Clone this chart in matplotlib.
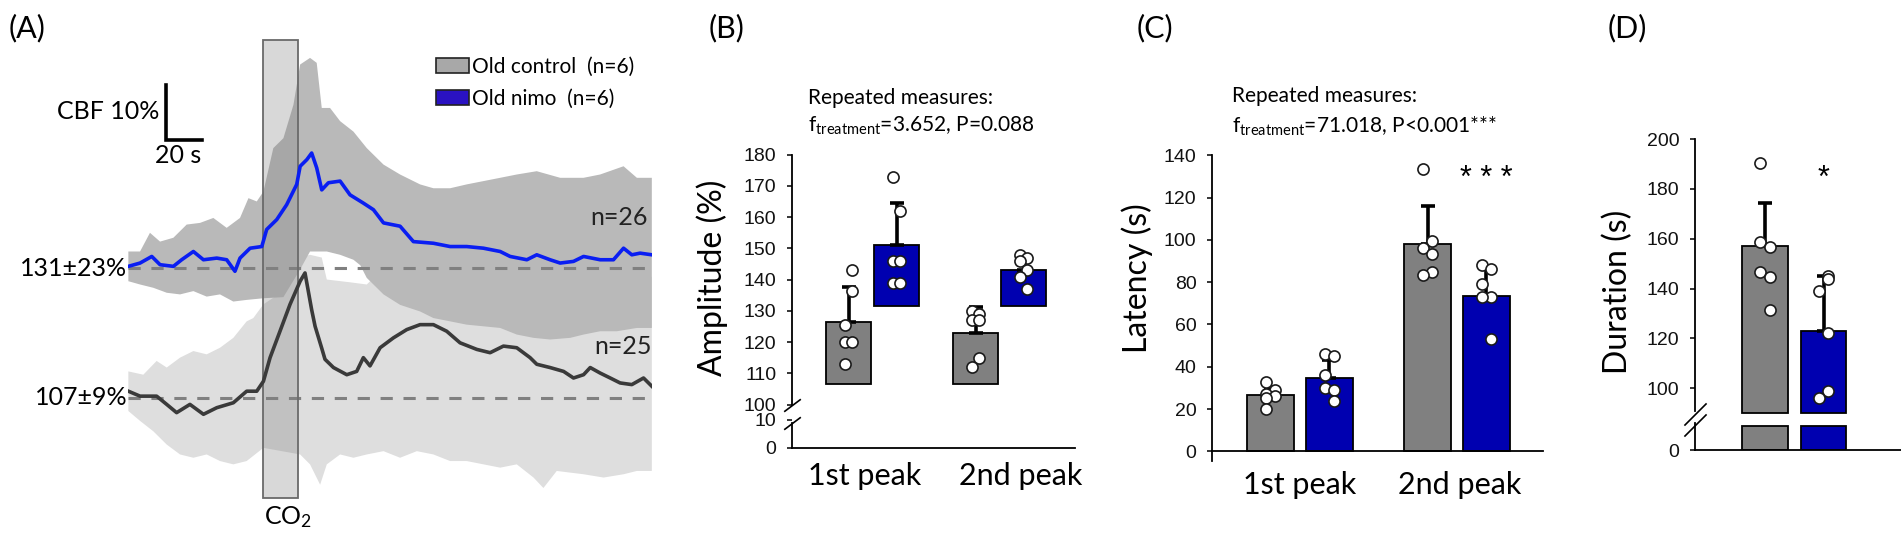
import numpy as np
import matplotlib
matplotlib.use("Agg")
import matplotlib.pyplot as plt
from matplotlib.patches import Patch, Rectangle
from matplotlib.ticker import NullLocator

plt.rcParams['font.family'] = ['Lato', 'DejaVu Sans']
plt.rcParams['mathtext.default'] = 'regular'

# ======================= DATA =======================
# Panel A: CBF change (%) from each group's own baseline, versus time (s)
nimo_t = [0.2, 6.7, 13.2, 17.8, 25.2, 29.8, 36.3, 41.9, 49.3, 54.8, 59.4, 62.2, 67.8, 74.3, 77.0,
          82.6, 88.1, 93.7, 95.6, 99.3, 102.0, 104.8, 107.6, 111.3, 117.8, 123.3, 130.7, 136.3,
          141.9, 151.1, 158.5, 169.6, 178.9, 188.1, 197.4, 206.7, 212.2, 221.5, 227.0, 234.4,
          240.0, 247.4, 253.0, 262.2, 269.6, 275.2, 279.8, 284.4, 290.9]
nimo_v = [0.3, 0.9, 2.1, 0.6, 0.3, 1.5, 3.0, 1.5, 1.8, 1.5, -0.6, 1.8, 3.6, 3.9, 7.0,
          8.8, 11.5, 15.2, 18.5, 19.7, 20.9, 18.2, 14.2, 15.5, 15.8, 13.3, 11.8, 10.6,
          8.2, 7.6, 4.8, 4.5, 3.9, 3.9, 3.6, 3.0, 2.1, 1.5, 2.4, 1.5,
          0.9, 1.2, 2.1, 1.5, 1.5, 3.6, 2.4, 2.7, 2.4]

ctrl_t = [0.2, 6.7, 15.9, 21.5, 27.0, 34.4, 41.9, 49.3, 58.5, 65.9, 71.5, 75.2, 78.9, 84.4, 90.0,
          95.6, 98.3, 102.0, 103.9, 107.6, 109.4, 114.1, 121.5, 127.0, 130.7, 134.4, 140.0, 147.4,
          154.8, 162.2, 169.6, 177.0, 184.4, 193.7, 201.1, 208.5, 215.9, 223.3, 227.0, 234.4,
          241.9, 247.4, 253.0, 256.7, 262.2, 267.8, 273.3, 279.8, 286.3, 290.9]
ctrl_v = [1.2, 0.3, 0.3, -1.2, -2.7, -1.2, -3.0, -1.8, -0.9, 1.2, 1.2, 3.0, 7.3, 12.1, 17.0,
          21.2, 22.7, 16.0, 13.0, 9.0, 7.0, 5.5, 4.2, 4.8, 7.3, 5.8, 9.1, 10.9,
          12.4, 13.3, 13.3, 12.1, 10.0, 8.8, 8.2, 9.4, 9.1, 7.3, 6.1, 5.5,
          4.8, 3.6, 4.2, 5.5, 4.5, 3.6, 2.7, 2.4, 3.6, 2.1]

# SD envelopes (upper / lower edges)
nimo_up_t = [0.2, 6.7, 12.2, 17.8, 25.2, 32.6, 40.0, 47.4, 54.8, 62.2, 66.9, 71.5, 75.2, 80.7,
             86.3, 91.9, 95.6, 101.1, 104.8, 107.6, 112.2, 117.8, 125.2, 132.6, 141.9, 151.1,
             162.2, 169.6, 178.9, 188.1, 197.4, 206.7, 215.9, 227.0, 240.0, 253.0, 262.2,
             275.2, 282.6, 290.9]
nimo_up_v = [3.0, 3.0, 6.4, 4.8, 5.5, 7.9, 8.2, 9.1, 7.3, 9.1, 12.7, 12.1, 13.9, 21.8,
             23.6, 29.7, 37.0, 38.2, 37.3, 29.1, 29.1, 26.7, 24.8, 21.8, 18.8, 17.0,
             15.2, 14.5, 14.5, 15.2, 15.8, 16.4, 17.0, 17.6, 16.4, 16.4, 17.0,
             18.5, 16.4, 16.4]
nimo_lo_t = [0.2, 6.7, 14.1, 21.5, 28.9, 36.3, 43.7, 51.1, 58.5, 65.9, 75.2, 86.3, 95.0, 101.1,
             110.4, 117.8, 125.2, 129.0, 132.6, 141.9, 151.1, 162.2, 169.6, 178.9, 188.1,
             197.4, 206.7, 215.9, 225.2, 234.4, 245.6, 253.0, 262.2, 271.5, 282.6, 290.9]
nimo_lo_v = [-2.4, -3.0, -3.6, -4.5, -4.8, -4.2, -5.2, -4.8, -6.1, -5.8, -5.5, -5.3, -0.6, 3.0,
             3.0, 2.4, 1.5, 0.5, -1.8, -4.8, -6.7, -7.9, -9.1, -9.7, -10.3,
             -10.6, -10.9, -12.1, -12.7, -13.0, -12.7, -12.1, -11.5, -11.5, -10.9, -10.9]
ctrl_up_t = [0.2, 8.5, 15.9, 21.5, 28.9, 36.3, 43.7, 51.1, 58.5, 65.9, 69.6, 75.2, 86.3, 95.6,
             101.1, 107.6, 110.4, 123.3, 132.6, 137.0, 150.0, 200.0, 250.0, 290.9]
ctrl_up_v = [4.8, 4.2, 6.7, 5.5, 7.3, 8.5, 7.9, 9.1, 10.9, 13.9, 14.5, 17.0, 19.4, 25.5,
             26.0, 25.5, 21.5, 21.0, 20.6, 22.0, 22.0, 22.0, 22.0, 22.0]
ctrl_lo_t = [0.2, 6.7, 14.1, 21.5, 28.9, 36.3, 43.7, 51.1, 58.5, 65.9, 75.2, 95.6, 101.1, 106.7,
             110.4, 117.8, 125.2, 132.6, 141.9, 151.1, 160.4, 169.6, 178.9, 188.1, 197.4,
             206.7, 215.9, 225.2, 230.7, 238.1, 253.0, 264.1, 275.2, 282.6, 290.9]
ctrl_lo_v = [-2.4, -4.2, -6.1, -8.5, -10.3, -10.9, -10.3, -11.5, -12.1, -11.5, -9.1, -10.3, -12.1,
             -15.8, -12.1, -10.3, -10.9, -10.3, -9.7, -10.9, -9.7, -10.3, -11.5, -11.5, -12.1,
             -12.7, -12.1, -14.5, -16.4, -13.3, -13.9, -14.5, -13.9, -13.3, -13.3]

baseline_labels = ['131±23%', '107±9%']
n_labels = ['n=26', 'n=25']
co2_window = [75.0, 94.4]          # s
scalebar = [10, 20]                # % , s
legend_labels = ['Old control  (n=6)', 'Old nimo  (n=6)']

# Panels B, C: groups
peaks = ['1st peak', '2nd peak']
# B  amplitude (%)  -- bars start from the group's baseline
amp_base = [106.5, 131.5]                 # control, nimo
amp_ctrl = [126.4, 122.9]
amp_ctrl_sd = [11.2, 8.3]
amp_nimo = [151.0, 143.2]
amp_nimo_sd = [13.5, 3.7]
amp_ctrl_pts = [[143, 136.5, 125.5, 120, 120, 113], [130, 129, 127, 127, 115, 112]]
amp_nimo_pts = [[173, 162, 146, 146, 139, 139], [148, 147, 146, 143, 141, 137]]
amp_stats = ['Repeated measures:', 'f$_{treatment}$=3.652, P=0.088']

# C  latency (s)
lat_ctrl = [26.8, 98.0]
lat_ctrl_sd = [3.1, 17.8]
lat_nimo = [34.7, 73.3]
lat_nimo_sd = [8.6, 13.7]
lat_ctrl_pts = [[33, 29, 27, 26, 25, 20], [133.5, 99.3, 96.1, 93.3, 84.6, 83.5]]
lat_nimo_pts = [[46, 45, 36, 30, 29, 24], [88, 86, 79, 73, 73, 53]]
lat_stats = ['Repeated measures:', 'f$_{treatment}$=71.018, P<0.001***']
lat_sig = ['', '* * *']

# D  duration (s)
dur_ctrl = 156.9
dur_ctrl_sd = 17.4
dur_nimo = 122.8
dur_nimo_sd = 22.1
dur_ctrl_pts = [190.4, 158.8, 156.5, 146.5, 144.5, 131.4]
dur_nimo_pts = [145, 144, 139, 122, 99, 96]
dur_sig = '*'

# ======================= STYLE =======================
W, H = 1901, 538
CTRL_C = '#808080'
NIMO_C = '#0000b0'
BAND_DARK = '#b9b9b9'
BAND_LIGHT = '#dedede'
TICK_FONT = 'Liberation Sans'
TRACE_GAP = 23.6       # vertical offset between the two traces (in % units)
JIT = 0.03

# dot side pattern (-1 left / +1 right of bar centre)
side_amp_ctrl = [[1, 1, -1, -1, 1, -1], [-1, 1, -1, 1, 1, -1]]
side_amp_nimo = [[-1, 1, -1, 1, -1, 1], [-1, 1, -1, 1, -1, 1]]
side_lat_ctrl = [[-1, 1, -1, 1, -1, -1], [-1, 1, -1, 1, 1, -1]]
side_lat_nimo = [[-1, 1, -1, -1, 1, 1], [-1, 1, -1, 1, -1, 1]]
side_dur_ctrl = [-1, -1, 1, -1, 1, 1]
side_dur_nimo = [1, 1, -1, 1, 1, -1]

fig = plt.figure(figsize=(W / 100, H / 100), dpi=100)


def rect(l, t, r, b):
    return [l / W, (H - b) / H, (r - l) / W, (b - t) / H]


# ======================= PANEL A =======================
axA = fig.add_axes(rect(128, 30, 652, 510))
axA.set_xlim(0, 291)
axA.set_ylim(-(510 - 268) / 5.5, (268 - 30) / 5.5)
axA.axis('off')

off = -TRACE_GAP
axA.fill(np.r_[ctrl_up_t, ctrl_lo_t[::-1]], np.r_[np.array(ctrl_up_v) + off, np.array(ctrl_lo_v[::-1]) + off],
         color=BAND_LIGHT, lw=0, zorder=1)
axA.fill(np.r_[nimo_up_t, nimo_lo_t[::-1]], np.r_[nimo_up_v, nimo_lo_v[::-1]],
         color=BAND_DARK, lw=0, zorder=2)
for y0 in (0, off):
    axA.plot([0, 291], [y0, y0], color='#808080', lw=2.2, ls=(0, (4, 3.5)), zorder=3)
axA.add_patch(Rectangle((co2_window[0], -41.8), co2_window[1] - co2_window[0], 83.3,
                        facecolor='#808080', alpha=0.3, edgecolor='none', zorder=4))
axA.add_patch(Rectangle((co2_window[0], -41.8), co2_window[1] - co2_window[0], 83.3,
                        facecolor='none', edgecolor='#6a6a6a', lw=1.3, zorder=4))
axA.plot(ctrl_t, np.array(ctrl_v) + off, color='#3a3a3a', lw=2.6, zorder=5)
axA.plot(nimo_t, nimo_v, color='#0a1ef2', lw=2.6, zorder=6)

axA.text(-0.4, 0, baseline_labels[0], ha='right', va='center', fontsize=18)
axA.text(-0.4, off, baseline_labels[1], ha='right', va='center', fontsize=18)
axA.text(288.5, 9.1, n_labels[0], ha='right', va='center', fontsize=18, color='#222222')
axA.text(291, -14.2, n_labels[1], ha='right', va='center', fontsize=18, color='#222222')
axA.text(np.mean(co2_window) + 4, -45.3, 'CO$_2$', ha='center', va='center', fontsize=18)

# scale bar
sb_x, sb_y = 21.1, 23.3
axA.plot([sb_x, sb_x, sb_x + scalebar[1]], [sb_y + scalebar[0], sb_y, sb_y], color='k', lw=2.6,
         solid_joinstyle='miter', zorder=7)
axA.text(sb_x - 3.9, sb_y + 5.1, 'CBF 10%', ha='right', va='center', fontsize=18)
axA.text(sb_x + 6.7, sb_y - 2.9, '20 s', ha='center', va='center', fontsize=18)

axA.legend(handles=[Patch(facecolor='#a8a8a8', edgecolor='#222222', lw=1.2, label=legend_labels[0]),
                    Patch(facecolor='#2a12c2', edgecolor='#222222', lw=1.2, label=legend_labels[1])],
           loc='upper left', bbox_to_anchor=(436 / W, 1 - 57 / H), bbox_transform=fig.transFigure,
           frameon=False, fontsize=15, handlelength=1.6, handleheight=0.75, handletextpad=0.15,
           labelspacing=0.55, borderpad=0, borderaxespad=0)


# ======================= helpers =======================
def make_break(lo, hi, k_lo, gap, k_hi):
    u1 = lo * k_lo
    u2 = u1 + gap

    def fwd(v):
        v = np.asarray(v, dtype=float)
        return np.where(v <= lo, v * k_lo,
                        np.where(v >= hi, u2 + (v - hi) * k_hi, u1 + (v - lo) / (hi - lo) * gap))

    def inv(u):
        u = np.asarray(u, dtype=float)
        return np.where(u <= u1, u / k_lo,
                        np.where(u >= u2, hi + (u - u2) / k_hi, lo + (u - u1) / gap * (hi - lo)))
    return fwd, inv


def style_axis(ax, yticks):
    ax.spines['top'].set_visible(False)
    ax.spines['right'].set_visible(False)
    for s in ('left', 'bottom'):
        ax.spines[s].set_linewidth(1.3)
    ax.set_yticks(yticks)
    ax.yaxis.set_minor_locator(NullLocator())
    ax.tick_params(axis='y', direction='out', length=3.6, width=1.1, pad=7.5)
    ax.tick_params(axis='x', length=0, pad=10)
    for lab in ax.get_yticklabels():
        lab.set_fontfamily(TICK_FONT)
        lab.set_fontsize(14)
        lab.set_color('#111111')


def draw_dots(ax, x, pts, sides):
    xs = [x + s * JIT for s in sides]
    ax.plot(xs, pts, 'o', ms=8, mfc='white', mec='#1a1a1a', mew=1.2, ls='none', zorder=5)


def draw_err(ax, x, top, sd):
    ax.errorbar([x], [top], yerr=[[0], [sd]], fmt='none', ecolor='k', elinewidth=2.6,
                capsize=5, capthick=2.6, zorder=4)


def broken_spine(ax, lo_end, hi_start, ymax, marks, msize, mpath):
    ax.spines['left'].set_visible(False)
    tr = ax.get_yaxis_transform()
    ax.plot([0, 0], [0, lo_end], color='k', lw=1.3, transform=tr, clip_on=False, zorder=6)
    ax.plot([0, 0], [hi_start, ymax], color='k', lw=1.3, transform=tr, clip_on=False, zorder=6)
    ax.plot([0] * len(marks), marks, ls='none', marker=mpath, ms=msize, mec='k', mew=1.2,
            transform=tr, clip_on=False, zorder=6)


# ======================= PANEL B =======================
axB = fig.add_axes(rect(792, 154.7, 1075, 448))
fB, iB = make_break(10, 100, 2.83, 15.0, 3.125)
axB.set_yscale('function', functions=(fB, iB))
axB.set_ylim(0, 180)
axB.set_xlim(-0.634, 1.594)
bwB, dxB = 0.354, 0.189
for g in range(2):
    xc, xn = g - dxB, g + dxB
    axB.bar(xc, amp_ctrl[g] - amp_base[0], bottom=amp_base[0], width=bwB, color=CTRL_C,
            edgecolor='k', lw=1.3, zorder=2)
    axB.bar(xn, amp_nimo[g] - amp_base[1], bottom=amp_base[1], width=bwB, color=NIMO_C,
            edgecolor='k', lw=1.3, zorder=2)
    draw_err(axB, xc, amp_ctrl[g], amp_ctrl_sd[g])
    draw_err(axB, xn, amp_nimo[g], amp_nimo_sd[g])
    draw_dots(axB, xc, amp_ctrl_pts[g], side_amp_ctrl[g])
    draw_dots(axB, xn, amp_nimo_pts[g], side_amp_nimo[g])
style_axis(axB, [0, 10, 100, 110, 120, 130, 140, 150, 160, 170, 180])
axB.set_xticks([-0.06, 1.17], peaks, fontsize=22)
broken_spine(axB, 9, 100, 180, [9, 100], 12, [(-1, -0.75), (1, 0.75)])
axB.set_ylabel('Amplitude (%)', fontsize=23)
axB.yaxis.set_label_coords(-0.226, 0.58)
axB.text(0.057, 1.193, amp_stats[0], transform=axB.transAxes, fontsize=15, va='center', ha='left')
axB.text(0.057, 1.098, amp_stats[1], transform=axB.transAxes, fontsize=15, va='center', ha='left')

# ======================= PANEL C =======================
axC = fig.add_axes(rect(1212, 155.3, 1543, 461.3))
axC.set_ylim(-4.73, 140)
axC.set_xlim(-0.56, 1.548)
bwC, dxC = 0.297, 0.187
for g in range(2):
    xc, xn = g - dxC, g + dxC
    axC.bar(xc, lat_ctrl[g], width=bwC, color=CTRL_C, edgecolor='k', lw=1.3, zorder=2)
    axC.bar(xn, lat_nimo[g], width=bwC, color=NIMO_C, edgecolor='k', lw=1.3, zorder=2)
    draw_err(axC, xc, lat_ctrl[g], lat_ctrl_sd[g])
    draw_err(axC, xn, lat_nimo[g], lat_nimo_sd[g])
    draw_dots(axC, xc, lat_ctrl_pts[g], side_lat_ctrl[g])
    draw_dots(axC, xn, lat_nimo_pts[g], side_lat_nimo[g])
    if lat_sig[g]:
        axC.text(xn, 129, lat_sig[g], ha='center', va='center', fontsize=22, fontfamily=TICK_FONT)
style_axis(axC, [0, 20, 40, 60, 80, 100, 120, 140])
axC.spines['bottom'].set_position(('data', 0))
axC.set_xticks([0, 1.02], peaks, fontsize=22)
axC.tick_params(axis='x', pad=14)
axC.set_ylabel('Latency (s)', fontsize=23)
axC.yaxis.set_label_coords(-0.177, 0.599)
axC.text(0.06, 1.194, lat_stats[0], transform=axC.transAxes, fontsize=15, va='center', ha='left')
axC.text(0.06, 1.096, lat_stats[1], transform=axC.transAxes, fontsize=15, va='center', ha='left')

# ======================= PANEL D =======================
axD = fig.add_axes(rect(1695, 139.1, 1901, 450.3))
fD, iD = make_break(10, 90, 2.4, 13.3, 2.49)
axD.set_yscale('function', functions=(fD, iD))
axD.set_ylim(0, 200)
axD.set_xlim(-0.648, 0.696)
bwD, dxD = 0.297, 0.191
for x, m, sd, pts, sides, col in ((-dxD, dur_ctrl, dur_ctrl_sd, dur_ctrl_pts, side_dur_ctrl, CTRL_C),
                                  (dxD, dur_nimo, dur_nimo_sd, dur_nimo_pts, side_dur_nimo, NIMO_C)):
    axD.bar(x, m - 90, bottom=90, width=bwD, color=col, edgecolor='k', lw=1.3, zorder=2)
    axD.bar(x, 10, bottom=0, width=bwD, color=col, edgecolor='k', lw=1.3, zorder=2)
    draw_err(axD, x, m, sd)
    draw_dots(axD, x, pts, sides)
axD.text(dxD, 184, dur_sig, ha='center', va='center', fontsize=22, fontfamily=TICK_FONT)
style_axis(axD, [0, 100, 120, 140, 160, 180, 200])
axD.set_xticks([])
broken_spine(axD, 30, 91, 200, [15, 84], 16, [(-1, -1), (1, 1)])
axD.set_ylabel('Duration (s)', fontsize=23)
axD.yaxis.set_label_coords(-0.30, 0.509)

# ======================= panel labels =======================
for lab, x in (('(A)', 27), ('(B)', 727), ('(C)', 1155), ('(D)', 1627)):
    fig.text(x / W, 1 - 28 / H, lab, ha='center', va='center', fontsize=22)

fig.savefig('out.png', dpi=100)
